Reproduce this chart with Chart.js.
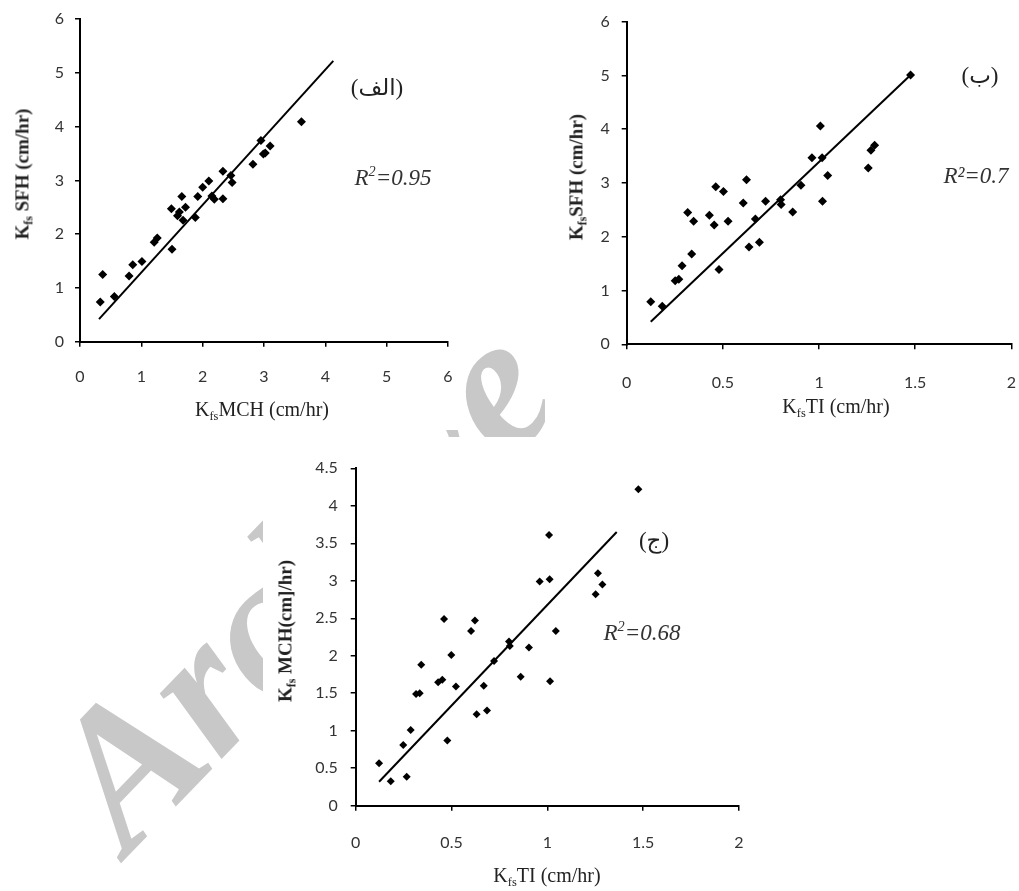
<!DOCTYPE html>
<html>
<head>
<meta charset="utf-8">
<script src="https://cdn.jsdelivr.net/npm/chart.js@4/dist/chart.umd.min.js"></script>
<style>
  body { margin: 0; width: 1019px; height: 891px; overflow: hidden; background: #fff; position: relative; }
  .panel { position: absolute; background: #fff; z-index: 1; }
  .txt { position: absolute; z-index: 2; transform: translate(-50%, -50%); white-space: nowrap; color: #222; font-family: "Liberation Serif", serif; }
  .ytitle { font-size: 19px; font-weight: bold; transform: translate(-50%, -50%) rotate(-90deg); }
  .xtitle { font-size: 20px; }
  .r2 { font-size: 23px; font-style: italic; color: #333; }
  .ar { font-size: 23px; font-family: "Liberation Serif", "DejaVu Sans", serif; }
  sub { font-size: 62%; vertical-align: -0.35em; }
  sup { font-size: 62%; vertical-align: 0.6em; }
  #wm { position: absolute; left: 10px; top: 742px; z-index: 0; transform-origin: 0 0; transform: rotate(-46deg);
        font: italic bold 196px "Liberation Serif", serif; line-height: 1; color: #c8c8c8; white-space: nowrap; }
</style>
</head>
<body>
<div id="wm">Archive of SID</div>

<div class="panel" style="left:0;top:0;width:460px;height:430px"><canvas id="chA" width="460" height="430"></canvas></div>
<div class="panel" style="left:545px;top:0;width:474px;height:430px"><canvas id="chB" width="474" height="430"></canvas></div>
<div class="panel" style="left:263px;top:437px;width:500px;height:454px"><canvas id="chC" width="500" height="454"></canvas></div>

<div class="txt ytitle" style="left:24px;top:174px">K<sub>fs</sub> SFH (cm/hr)</div>
<div class="txt xtitle" style="left:262px;top:411px">K<sub>fs</sub>MCH (cm/hr)</div>
<div class="txt ar" dir="rtl" style="left:377px;top:87px">(الف)</div>
<div class="txt r2" style="left:393px;top:177px">R<sup>2</sup>=0.95</div>

<div class="txt ytitle" style="left:578px;top:177px">K<sub>fs</sub>SFH (cm/hr)</div>
<div class="txt xtitle" style="left:836px;top:408px">K<sub>fs</sub>TI (cm/hr)</div>
<div class="txt ar" dir="rtl" style="left:980px;top:75px">(ب)</div>
<div class="txt r2" style="left:976px;top:176px">R²=0.7</div>

<div class="txt ytitle" style="left:287px;top:631px">K<sub>fs</sub> MCH(cm]/hr)</div>
<div class="txt xtitle" style="left:547px;top:877px">K<sub>fs</sub>TI (cm/hr)</div>
<div class="txt ar" dir="rtl" style="left:654px;top:540px">(ج)</div>
<div class="txt r2" style="left:642px;top:632px">R<sup>2</sup>=0.68</div>

<script>
// (الف) Kfs MCH vs Kfs SFH
const mchA = [0.33, 0.37, 0.56, 0.80, 0.86, 1.01, 1.21, 1.26, 1.50, 1.49, 1.59, 1.62, 1.66, 1.68, 1.72, 1.88,
  1.92, 2.00, 2.10, 2.15, 2.19, 2.33, 2.33, 2.46, 2.48, 2.82, 2.95, 2.99, 3.02, 3.10, 3.61];
const sfhA = [0.74, 1.25, 0.84, 1.22, 1.43, 1.49, 1.85, 1.93, 1.72, 2.47, 2.34, 2.41, 2.70, 2.26, 2.50, 2.31,
  2.70, 2.87, 2.99, 2.71, 2.65, 3.17, 2.66, 3.09, 2.96, 3.30, 3.74, 3.49, 3.51, 3.64, 4.09];
const trendAx = [0.31, 4.13];
const trendAy = [0.42, 5.22];

// (ب) Kfs TI vs Kfs SFH
const tiB = [0.125, 0.185, 0.252, 0.271, 0.288, 0.317, 0.338, 0.348, 0.43, 0.455, 0.463, 0.48, 0.503, 0.527,
  0.606, 0.623, 0.636, 0.669, 0.69, 0.722, 0.80, 0.803, 0.863, 0.906, 0.963, 1.007, 1.016, 1.018, 1.045,
  1.256, 1.27, 1.289, 1.476];
const sfhB = [0.79, 0.71, 1.18, 1.21, 1.46, 2.45, 1.68, 2.29, 2.40, 2.22, 2.93, 1.39, 2.84, 2.29,
  2.63, 3.06, 1.81, 2.33, 1.90, 2.66, 2.69, 2.60, 2.46, 2.96, 3.47, 4.06, 3.47, 2.66, 3.14,
  3.28, 3.61, 3.70, 5.01];
const trendBx = [0.125, 1.476];
const trendBy = [0.42, 5.01];

// (ج) Kfs TI vs Kfs MCH
const tiC = [0.122, 0.183, 0.266, 0.248, 0.287, 0.315, 0.334, 0.342, 0.43, 0.452, 0.461, 0.478, 0.499, 0.523,
  0.602, 0.622, 0.631, 0.668, 0.685, 0.722, 0.80, 0.804, 0.861, 0.904, 0.96, 1.012, 1.009, 1.014, 1.044,
  1.252, 1.264, 1.287, 1.475];
const mchC = [0.565, 0.325, 0.387, 0.81, 1.01, 1.49, 1.50, 1.88, 1.645, 1.68, 2.49, 0.87, 2.01, 1.59,
  2.33, 2.47, 1.22, 1.60, 1.27, 1.93, 2.19, 2.13, 1.72, 2.11, 2.99, 3.02, 3.61, 1.66, 2.33,
  2.82, 3.10, 2.95, 4.22];
const trendCx = [0.122, 1.362];
const trendCy = [0.32, 3.65];

const pairs = (xs, ys) => xs.map((x, i) => ({ x: x, y: ys[i] }));

// labels sit lower than chart.js would put them, so the x labels use a tall line box
// instead of a big tick padding (padding also eats into the right edge of the plot)
function axis(min, max, step, size, vertical, gap) {
  return {
    type: 'linear',
    min: min,
    max: max,
    ticks: {
      stepSize: step,
      padding: vertical ? gap : 3,
      color: '#333',
      font: { family: 'Lato', size: 16, lineHeight: vertical ? 1 : ((gap - 8) * 2) + 'px' },
      callback: v => String(+v.toFixed(2))
    },
    grid: { drawOnChartArea: false, drawTicks: true, tickLength: 5, color: '#000', lineWidth: 1.5 },
    border: { display: true, color: '#000', width: 2 },
    afterFit: s => { if (vertical) s.width = size; else s.height = size; }
  };
}

function panel(id, xs, ys, tx, ty, o) {
  new Chart(document.getElementById(id), {
    type: 'scatter',
    data: {
      datasets: [
        {
          data: pairs(xs, ys),
          pointStyle: 'rectRot',
          pointRadius: o.r,
          pointHoverRadius: o.r,
          backgroundColor: '#000',
          borderColor: '#000',
          borderWidth: 0
        },
        {
          type: 'line',
          data: pairs(tx, ty),
          borderColor: '#000',
          borderWidth: 2,
          pointRadius: 0,
          fill: false
        }
      ]
    },
    options: {
      responsive: false,
      animation: false,
      layout: { padding: { top: o.top, right: o.right, left: 0, bottom: 0 } },
      plugins: { legend: { display: false }, tooltip: { enabled: false } },
      scales: {
        x: axis(0, o.xmax, o.xstep, o.xh, false, o.xoff),
        y: axis(0, o.ymax, o.ystep, o.yw, true, o.ypad)
      }
    }
  });
}

panel('chA', mchA, sfhA, trendAx, trendAy,
  { r: 4.5, top: 19, right: 12, xh: 88.3, yw: 80, xmax: 6, xstep: 1, ymax: 6, ystep: 1, xoff: 35.3, ypad: 11 });
panel('chB', tiB, sfhB, trendBx, trendBy,
  { r: 4.5, top: 21.7, right: 4, xh: 85.7, yw: 81.7, xmax: 2, xstep: 0.5, ymax: 6, ystep: 1, xoff: 39, ypad: 12 });
panel('chC', tiC, mchC, trendCx, trendCy,
  { r: 4, top: 31.3, right: 24, xh: 85.3, yw: 92.7, xmax: 2, xstep: 0.5, ymax: 4.5, ystep: 0.5, xoff: 37, ypad: 13 });
</script>
</body>
</html>
